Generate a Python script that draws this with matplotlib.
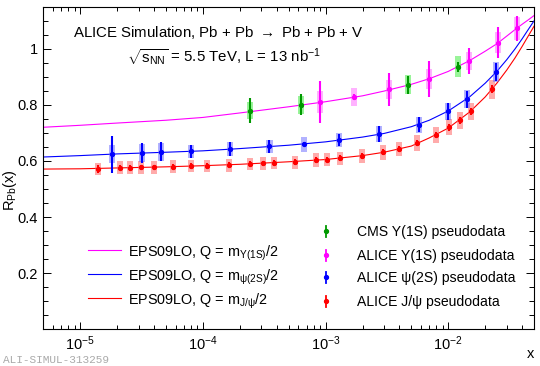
import numpy as np
import matplotlib
matplotlib.use('Agg')
import matplotlib.pyplot as plt
from matplotlib.ticker import FixedLocator, FixedFormatter, LogLocator, NullFormatter

plt.rcParams['font.family'] = ['Liberation Sans', 'DejaVu Sans']
plt.rcParams['mathtext.fontset'] = 'custom'
plt.rcParams['mathtext.rm'] = 'Liberation Sans'
plt.rcParams['mathtext.it'] = 'Liberation Sans:italic'
plt.rcParams['mathtext.bf'] = 'Liberation Sans:bold'

# ---------------- data ----------------
curve_x = [5e-6, 1e-5, 2e-5, 5e-5, 1e-4, 2e-4, 5e-4, 1e-3, 2e-3, 3e-3, 5e-3, 7e-3,
           1e-2, 1.5e-2, 2e-2, 2.5e-2, 3e-2, 3.5e-2, 4e-2, 4.5e-2, 5e-2]
curve_ups = [0.720, 0.727, 0.735, 0.745, 0.755, 0.771, 0.793, 0.811, 0.832, 0.849,
             0.873, 0.893, 0.919, 0.958, 0.991, 1.018, 1.045, 1.068, 1.087, 1.103, 1.118]
curve_psi2s = [0.614, 0.619, 0.625, 0.631, 0.636, 0.644, 0.656, 0.668, 0.685, 0.698,
               0.722, 0.745, 0.778, 0.829, 0.877, 0.920, 0.961, 0.999, 1.035, 1.069, 1.099]
curve_jpsi = [0.571, 0.572, 0.575, 0.579, 0.583, 0.588, 0.597, 0.605, 0.619, 0.631,
              0.653, 0.682, 0.717, 0.775, 0.828, 0.878, 0.924, 0.967, 1.008, 1.046, 1.080]

cms_x = [2.44e-4, 6.29e-4, 4.68e-3, 1.21e-2]
cms_y = [0.779, 0.800, 0.871, 0.936]
cms_stat = [0.044, 0.037, 0.031, 0.018]
cms_sys = [0.031, 0.032, 0.034, 0.037]

ups_x = [9.0e-4, 1.71e-3, 3.30e-3, 6.93e-3, 1.466e-2, 2.55e-2, 3.61e-2]
ups_y = [0.810, 0.828, 0.856, 0.892, 0.956, 1.021, 1.0725]
ups_stat = [0.076, 0.012, 0.059, 0.064, 0.045, 0.055, 0.044]
ups_sys = [0.038, 0.033, 0.034, 0.036, 0.031, 0.038, 0.041]

psi2s_x = [1.83e-5, 3.21e-5, 4.55e-5, 7.93e-5, 1.65e-4, 3.49e-4, 6.68e-4, 1.29e-3,
           2.72e-3, 5.75e-3, 9.94e-3, 1.41e-2, 2.44e-2]
psi2s_y = [0.6245, 0.628, 0.632, 0.634, 0.642, 0.652, 0.660, 0.674, 0.695, 0.729,
           0.777, 0.820, 0.917]
psi2s_stat = [0.066, 0.036, 0.034, 0.024, 0.025, 0.024, 0.007, 0.021, 0.028, 0.027,
              0.030, 0.031, 0.033]
psi2s_sys = [0.031, 0.031, 0.031, 0.024, 0.025, 0.024, 0.027, 0.025, 0.028, 0.028,
             0.030, 0.032, 0.037]

jpsi_x = [1.40e-5, 2.10e-5, 2.55e-5, 3.11e-5, 4.02e-5, 5.69e-5, 8.07e-5, 1.08e-4,
          1.62e-4, 2.42e-4, 3.09e-4, 3.77e-4, 5.65e-4, 8.37e-4, 1.02e-3, 1.32e-3,
          1.97e-3, 2.93e-3, 3.95e-3, 5.61e-3, 7.93e-3, 1.02e-2, 1.25e-2, 1.52e-2, 2.26e-2]
jpsi_y = [0.572, 0.576, 0.576, 0.577, 0.577, 0.579, 0.582, 0.582, 0.585, 0.589,
          0.591, 0.5925, 0.596, 0.6025, 0.605, 0.6096, 0.6185, 0.631, 0.643, 0.664,
          0.692, 0.720, 0.745, 0.777, 0.856]
jpsi_stat = [0.015, 0.010, 0.010, 0.010, 0.010, 0.010, 0.010, 0.010, 0.010, 0.010,
             0.010, 0.010, 0.010, 0.010, 0.010, 0.010, 0.010, 0.010, 0.011, 0.011,
             0.011, 0.012, 0.012, 0.012, 0.013]
jpsi_sys = [0.022, 0.023, 0.023, 0.024, 0.023, 0.023, 0.023, 0.023, 0.023, 0.023,
            0.024, 0.023, 0.023, 0.024, 0.024, 0.024, 0.025, 0.026, 0.026, 0.027,
            0.028, 0.029, 0.031, 0.031, 0.034]

curve_labels = [r"EPS09LO, Q = m$_{\mathrm{Υ(1S)}}$/2",
                r"EPS09LO, Q = m$_{\mathrm{ψ(2S)}}$/2",
                r"EPS09LO, Q = m$_{\mathrm{J/ψ}}$/2"]
data_labels = ["CMS Υ(1S) pseudodata", "ALICE Υ(1S) pseudodata",
               "ALICE ψ(2S) pseudodata", "ALICE J/ψ pseudodata"]

# ---------------- figure ----------------
W, H = 540, 366
fig = plt.figure(figsize=(W / 100, H / 100), dpi=100)
L, R, T, B = 43.3, 534.0, 7.3, 329.3
ax = fig.add_axes([L / W, 1 - B / H, (R - L) / W, (B - T) / H])
ax.set_xscale('log')
ax.set_xlim(5e-6, 5e-2)
ax.set_ylim(0, 1.1475)

MAG = '#ff00ff'
BLU = '#0000ff'
RED = '#ff0000'
GRN = '#009900'

ax.plot(curve_x, curve_ups, color=MAG, lw=0.8, zorder=2)
ax.plot(curve_x, curve_psi2s, color=BLU, lw=0.8, zorder=2)
ax.plot(curve_x, curve_jpsi, color=RED, lw=0.8, zorder=2)

hw = 0.0245  # half box width in decades


def draw_series(xs, ys, st, sy, col, boxcol, balpha):
    xs = np.asarray(xs); ys = np.asarray(ys)
    st = np.asarray(st); sy = np.asarray(sy)
    left = xs * 10 ** (-hw)
    width = xs * (10 ** hw - 10 ** (-hw))
    ax.bar(left, 2 * sy, width=width, bottom=ys - sy, align='edge',
           color=boxcol, alpha=balpha, lw=0, zorder=3)
    ax.errorbar(xs, ys, yerr=st, fmt='o', color=col, ms=2.8, elinewidth=1.5,
                capsize=0, zorder=4)


draw_series(jpsi_x, jpsi_y, jpsi_stat, jpsi_sys, RED, '#ff6666', 0.55)
draw_series(psi2s_x, psi2s_y, psi2s_stat, psi2s_sys, BLU, '#6666ff', 0.5)
draw_series(ups_x, ups_y, ups_stat, ups_sys, MAG, '#ff66ff', 0.5)
draw_series(cms_x, cms_y, cms_stat, cms_sys, GRN, '#55ee55', 0.6)

# ticks
ax.yaxis.set_major_locator(FixedLocator([0.2, 0.4, 0.6, 0.8, 1.0]))
ax.yaxis.set_major_formatter(FixedFormatter(['0.2', '0.4', '0.6', '0.8', '1']))
ax.yaxis.set_minor_locator(FixedLocator(np.arange(0.05, 1.15, 0.05)))
ax.xaxis.set_major_locator(LogLocator(base=10, numticks=10))
ax.xaxis.set_minor_locator(LogLocator(base=10, subs=np.arange(2, 10), numticks=20))
ax.xaxis.set_minor_formatter(NullFormatter())
ax.tick_params(which='both', direction='in', top=True, right=True, width=0.7,
               labelsize=10.5, colors='black')
ax.tick_params(axis='y', which='major', length=6.0, pad=4)
ax.tick_params(axis='y', which='minor', length=3.3)
ax.tick_params(axis='x', which='major', length=5.3, pad=4)
ax.tick_params(axis='x', which='minor', length=3.0)
for s in ax.spines.values():
    s.set_linewidth(0.8)

# axis labels
fig.text(10 / W, 1 - 190 / H, r"R$_{\mathrm{Pb}}$(x)", rotation=90, ha='center',
         va='center', fontsize=10.5)
fig.text(531 / W, 1 - 354 / H, "x", ha='center', va='center', fontsize=10.5)

# title texts
fig.text(72.7 / W, 1 - 36.7 / H, r"ALICE Simulation, Pb + Pb $\rightarrow$ Pb + Pb + V",
         ha='left', va='baseline', fontsize=10.8)
fig.text(126.7 / W, 1 - 61.7 / H,
         r"$\sqrt{\mathrm{s}_{\mathrm{NN}}}$ = 5.5 TeV, L = 13 nb$^{\mathrm{-1}}$",
         ha='left', va='baseline', fontsize=10.8)

# left legend (curves)
cols = [MAG, BLU, RED]
rows = [250, 274, 298.3]
for lab, c, py in zip(curve_labels, cols, rows):
    ax.plot([(88.3 - L) / (R - L), (121 - L) / (R - L)],
            [(B - py) / (B - T)] * 2, color=c, lw=0.8, transform=ax.transAxes)
    fig.text(128.3 / W, 1 - (py + 6.7) / H, lab, ha='left', va='baseline',
             fontsize=10.4)

# right legend (data)
dcols = [GRN, MAG, BLU, RED]
drows = [231, 255, 277, 301]
for lab, c, py in zip(data_labels, dcols, drows):
    xa = (326 - L) / (R - L)
    ya = (B - py) / (B - T)
    d = 5.5 / (B - T)
    ax.plot([xa, xa], [ya - d, ya + d], color=c, lw=1.3, transform=ax.transAxes)
    ax.plot([xa], [ya], 'o', color=c, ms=2.8, transform=ax.transAxes)
    fig.text(356.7 / W, 1 - (py + 4.8) / H, lab, ha='left', va='baseline',
             fontsize=10.1)

fig.text(3 / W, 1 - 363 / H, "ALI-SIMUL-313259", family='Liberation Mono',
         fontsize=8, color='#aaaaaa', ha='left', va='baseline')

fig.savefig('out.png', dpi=100)
